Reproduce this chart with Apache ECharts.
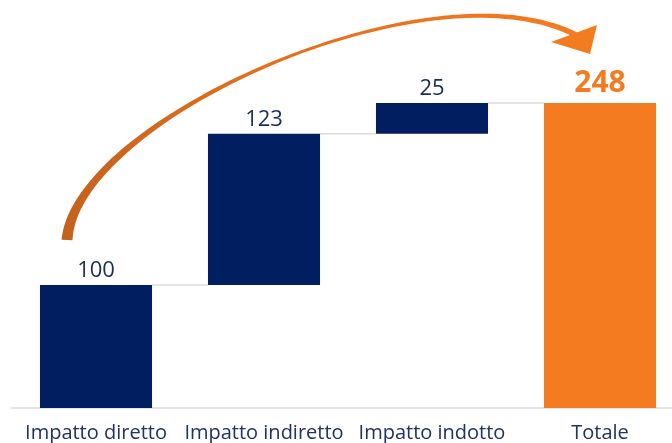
<!DOCTYPE html>
<html>
<head>
<meta charset="utf-8">
<script src="https://cdn.jsdelivr.net/npm/echarts@6/dist/echarts.min.js"></script>
<style>
html,body{margin:0;padding:0;background:#fff;overflow:hidden;width:672px;height:443px;}
#chart{width:684px;height:443px;}
</style>
</head>
<body>
<div id="chart"></div>
<script>
const categories = ['Impatto diretto', 'Impatto indiretto', 'Impatto indotto', 'Totale'];
const baseValues = [0, 100, 223, 0];
const barValues = [100, 123, 25, 248];
const connectorLevels = [100, 223, 248];

const NAVY = '#001E60';
const ORANGE = '#F47B20';
const BAR_FRAC = 0.667;

const chart = echarts.init(document.getElementById('chart'));

// decorative arrow geometry
function bez(p0, p1, p2, p3, t) {
  const u = 1 - t;
  return [
    u*u*u*p0[0] + 3*u*u*t*p1[0] + 3*u*t*t*p2[0] + t*t*t*p3[0],
    u*u*u*p0[1] + 3*u*u*t*p1[1] + 3*u*t*t*p2[1] + t*t*t*p3[1]
  ];
}
function bezD(p0, p1, p2, p3, t) {
  const u = 1 - t;
  return [
    3*u*u*(p1[0]-p0[0]) + 6*u*t*(p2[0]-p1[0]) + 3*t*t*(p3[0]-p2[0]),
    3*u*u*(p1[1]-p0[1]) + 6*u*t*(p2[1]-p1[1]) + 3*t*t*(p3[1]-p2[1])
  ];
}
const widthStops = [[0, 11], [0.15, 7.5], [0.35, 4.5], [0.55, 3], [0.78, 3.8], [1, 5.5]];
function widthAt(t) {
  for (let i = 1; i < widthStops.length; i++) {
    if (t <= widthStops[i][0]) {
      const a = widthStops[i-1], b = widthStops[i];
      return a[1] + (b[1]-a[1]) * (t - a[0]) / (b[0] - a[0]);
    }
  }
  return widthStops[widthStops.length-1][1];
}
const P0 = [67, 240], P1 = [75, 120], P2 = [430, -40], P3 = [576, 35];
const left = [], right = [];
const N = 80;
for (let i = 0; i <= N; i++) {
  const t = i / N;
  const p = bez(P0, P1, P2, P3, t);
  const d = bezD(P0, P1, P2, P3, t);
  const len = Math.hypot(d[0], d[1]);
  const nx = -d[1] / len, ny = d[0] / len;
  const w = widthAt(t) / 2;
  left.push([p[0] + nx*w, p[1] + ny*w]);
  right.push([p[0] - nx*w, p[1] - ny*w]);
}
const shaft = left.concat(right.reverse());

chart.setOption({
  animation: false,
  backgroundColor: '#ffffff',
  grid: { left: 12, top: 39, right: 0, bottom: 35, containLabel: false },
  xAxis: {
    type: 'category',
    data: categories,
    axisLine: { show: true, lineStyle: { color: '#E3E3E3', width: 2 } },
    axisTick: { show: false },
    axisLabel: {
      color: '#1F3263',
      fontFamily: 'Open Sans',
      fontSize: 20,
      margin: 15,
      interval: 0
    }
  },
  yAxis: {
    type: 'value',
    min: 0,
    max: 300,
    show: false,
    splitLine: { show: false }
  },
  series: [
    {
      type: 'bar',
      stack: 'wf',
      data: baseValues,
      barWidth: (BAR_FRAC * 100) + '%',
      itemStyle: { color: 'transparent' },
      silent: true
    },
    {
      type: 'bar',
      stack: 'wf',
      barWidth: (BAR_FRAC * 100) + '%',
      data: barValues.map((v, i) => {
        const isTotal = i === categories.length - 1;
        return {
          value: v,
          itemStyle: { color: isTotal ? ORANGE : NAVY },
          label: isTotal ? {
            color: ORANGE, fontWeight: 'bold', fontSize: 30, distance: 5
          } : undefined
        };
      }),
      label: {
        show: true,
        position: 'top',
        color: '#1B2A5E',
        fontFamily: 'Open Sans',
        fontSize: 22,
        distance: 3
      }
    },
    {
      type: 'custom',
      data: connectorLevels.map((v, i) => [i, v]),
      z: 1,
      renderItem: function (params, api) {
        const c = api.coord([api.value(0), api.value(1)]);
        const band = api.size([1, 0])[0];
        const bw = band * BAR_FRAC;
        return {
          type: 'line',
          shape: { x1: c[0] + bw / 2, y1: c[1], x2: c[0] + band - bw / 2, y2: c[1] },
          style: { stroke: '#DCDCDC', lineWidth: 1.5 }
        };
      }
    }
  ],
  graphic: [
    {
      type: 'polygon',
      shape: { points: shaft },
      style: {
        fill: new echarts.graphic.LinearGradient(0, 0, 1, 0, [
          { offset: 0, color: '#C4621D' },
          { offset: 0.35, color: '#E06F1F' },
          { offset: 1, color: ORANGE }
        ])
      }
    },
    {
      type: 'polygon',
      shape: { points: [[551, 42], [597, 25], [590, 54]] },
      style: { fill: ORANGE }
    }
  ]
});
</script>
</body>
</html>
